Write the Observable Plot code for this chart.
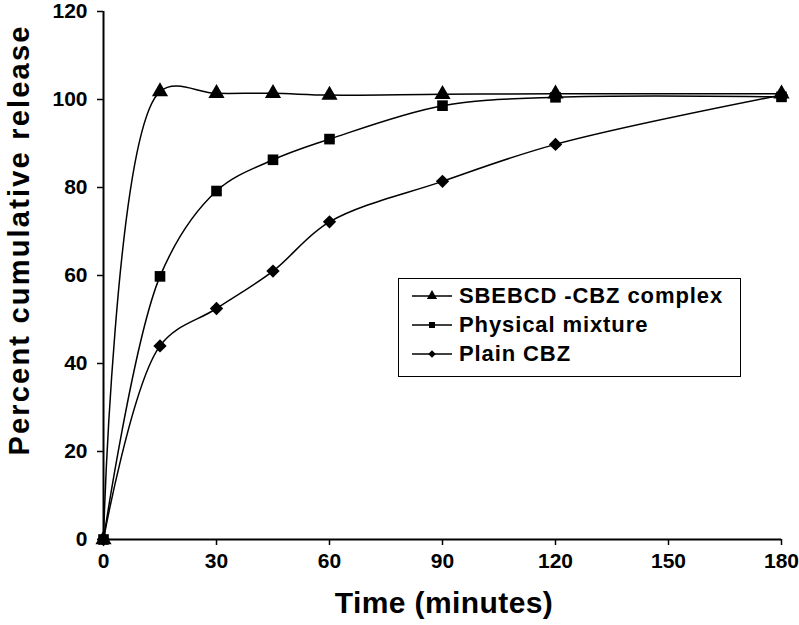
<!DOCTYPE html>
<html>
<head>
<meta charset="utf-8">
<script src="https://cdn.jsdelivr.net/npm/d3@7"></script>
<script src="https://cdn.jsdelivr.net/npm/@observablehq/plot@0.6"></script>
<style>
  body { margin: 0; background: #fff; }
  #wrap { position: relative; width: 799px; height: 625px; font-family: "Liberation Sans", Arial, sans-serif; }
  #legend { position: absolute; left: 398px; top: 278px; width: 343px; height: 99px; border: 1.5px solid #000; background: #fff; box-sizing: border-box; padding: 2px 0 0 13px; }
  .row { display: flex; align-items: center; height: 29px; font-weight: bold; font-size: 22px; letter-spacing: 0.9px; white-space: nowrap; }
  .row svg { margin-right: 7px; }
</style>
</head>
<body>
<div id="wrap"></div>
<script>
const times = [0, 15, 30, 45, 60, 90, 120, 180];
const seriesNames = ["SBEBCD -CBZ complex", "Physical mixture", "Plain CBZ"];
const complexValues = [0, 101.8, 101.4, 101.4, 101.0, 101.2, 101.3, 101.3];
const mixtureValues = [0, 59.8, 79.2, 86.3, 91.0, 98.6, 100.5, 100.6];
const plainValues = [0, 44.0, 52.5, 61.0, 72.2, 81.4, 89.8, 101.0];
const symbols = ["triangle", "square", "diamond2"];
const xTicks = [0, 30, 60, 90, 120, 150, 180];
const yTicks = [0, 20, 40, 60, 80, 100, 120];

const allValues = [complexValues, mixtureValues, plainValues];
const data = [];
seriesNames.forEach((name, i) => {
  times.forEach((t, j) => data.push({series: name, time: t, value: allValues[i][j], symbol: symbols[i]}));
});

const FONT = "Liberation Sans, Arial, sans-serif";

const chart = Plot.plot({
  width: 799,
  height: 625,
  marginLeft: 103,
  marginRight: 18,
  marginTop: 11,
  marginBottom: 86,
  style: {fontFamily: FONT, background: "#fff", color: "#000"},
  x: {domain: [0, 180], label: null},
  y: {domain: [0, 120], label: null},
  marks: [
    Plot.axisX({ticks: xTicks, tickSize: 6, tickPadding: 8, fontSize: 21, fontWeight: "bold", label: null, strokeWidth: 1.5}),
    Plot.axisY({ticks: yTicks, tickSize: 6, tickPadding: 10, fontSize: 21, fontWeight: "bold", label: null, strokeWidth: 1.5}),
    Plot.ruleX([0], {stroke: "#000", strokeWidth: 2}),
    Plot.ruleY([0], {stroke: "#000", strokeWidth: 2}),
    Plot.line(data, {x: "time", y: "value", z: "series", curve: "catmull-rom", stroke: "#000", strokeWidth: 1.5}),
    Plot.dot(data, {x: "time", y: "value", symbol: "symbol", fill: "#000", r: 6})
  ]
});

const svg = d3.select(chart);
svg.append("text")
  .attr("x", 444).attr("y", 613)
  .attr("text-anchor", "middle")
  .attr("font-size", 30).attr("font-weight", "bold")
  .attr("letter-spacing", 0.4)
  .attr("font-family", FONT)
  .text("Time (minutes)");
svg.append("text")
  .attr("transform", `translate(29, 240) rotate(-90)`)
  .attr("text-anchor", "middle")
  .attr("font-size", 29).attr("font-weight", "bold")
  .attr("letter-spacing", 2.2)
  .attr("font-family", FONT)
  .text("Percent cumulative release");

const wrap = document.getElementById("wrap");
wrap.appendChild(chart);

const legend = document.createElement("div");
legend.id = "legend";
const symPaths = {
  triangle: d3.symbol(d3.symbolTriangle, 45)(),
  square: d3.symbol(d3.symbolSquare, 36)(),
  diamond2: d3.symbol(d3.symbolDiamond2, 36)()
};
seriesNames.forEach((name, i) => {
  const row = document.createElement("div");
  row.className = "row";
  row.innerHTML = `<svg width="40" height="16"><line x1="0" x2="40" y1="8" y2="8" stroke="#000" stroke-width="1.5"/><path d="${symPaths[symbols[i]]}" transform="translate(20,8)" fill="#000"/></svg><span>${name}</span>`;
  legend.appendChild(row);
});
wrap.appendChild(legend);
</script>
</body>
</html>
